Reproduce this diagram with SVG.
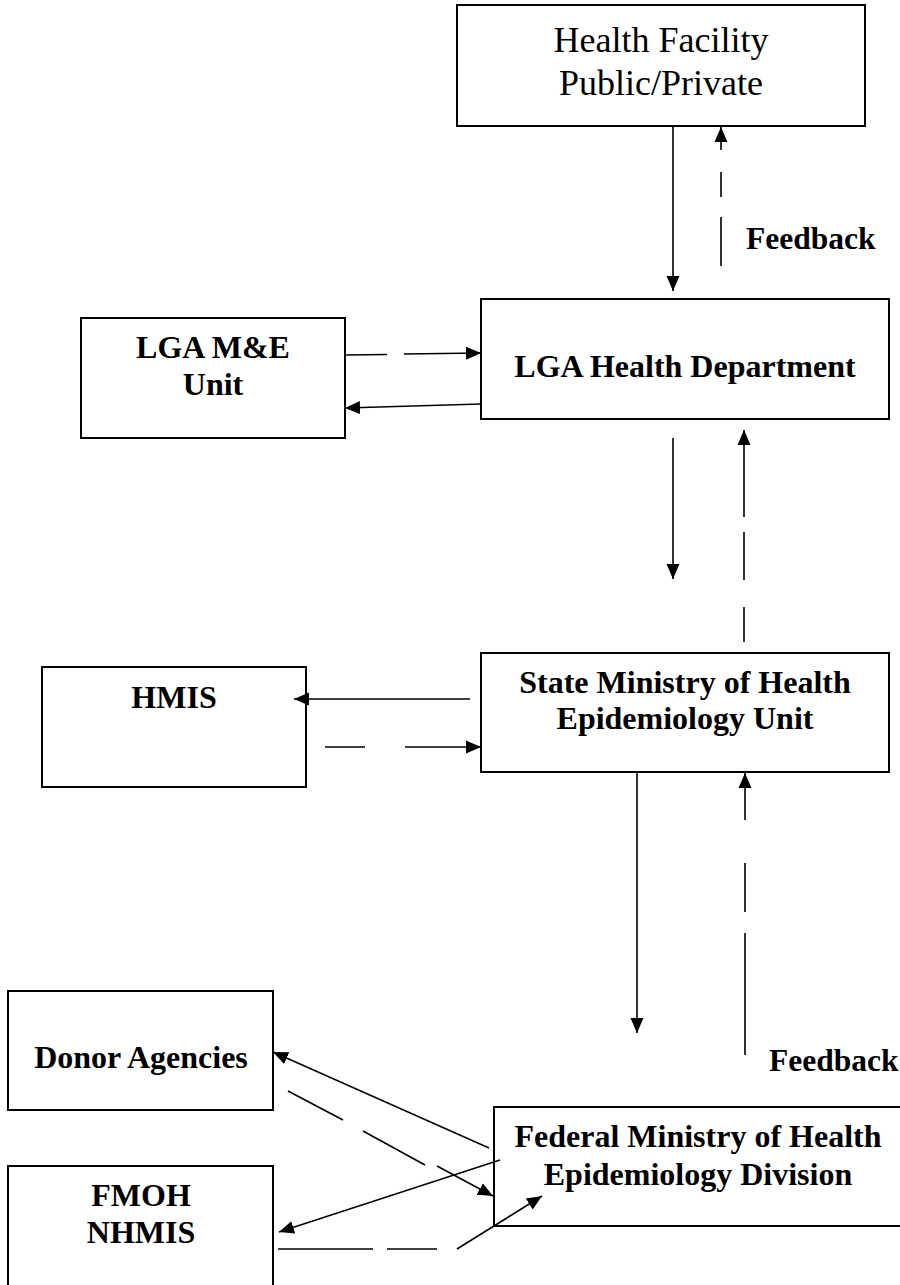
<svg xmlns="http://www.w3.org/2000/svg" width="900" height="1285" viewBox="0 0 900 1285">
<style>
.box{fill:#fff;stroke:#000;stroke-width:2}
.t{font-family:"Liberation Serif","Times New Roman",serif;font-weight:bold;font-size:32px;fill:#000;text-anchor:middle}
.tr{font-family:"Liberation Serif","Times New Roman",serif;font-size:36px;fill:#000;text-anchor:middle}
.lbl{font-family:"Liberation Serif","Times New Roman",serif;font-weight:bold;font-size:31.5px;fill:#000}
.c{fill:none;stroke:#000;stroke-width:1.6;marker-end:url(#ah)}
</style>
<defs>
<marker id="ah" markerUnits="userSpaceOnUse" markerWidth="16" markerHeight="14" refX="15" refY="7" orient="auto">
<path d="M0,0.5 L15,7 L0,13.5 z" fill="#000"/>
</marker>
</defs>
<rect width="900" height="1285" fill="#fff"/>
<g id="health-facility">
<rect class="box" x="457" y="5" width="408" height="121"/>
<text class="tr" x="661" y="52">Health Facility</text>
<text class="tr" x="661" y="95">Public/Private</text>
</g>
<g id="lga-me">
<rect class="box" x="81" y="318" width="264" height="120"/>
<text class="t" x="213" y="358">LGA M&amp;E</text>
<text class="t" x="213" y="395">Unit</text>
</g>
<g id="lga-hd">
<rect class="box" x="481" y="299" width="408" height="120"/>
<text class="t" x="685" y="377">LGA Health Department</text>
</g>
<g id="hmis">
<rect class="box" x="42" y="667" width="264" height="120"/>
<text class="t" x="174" y="708">HMIS</text>
</g>
<g id="state">
<rect class="box" x="481" y="653" width="408" height="119"/>
<text class="t" x="685" y="693">State Ministry of Health</text>
<text class="t" x="685" y="729">Epidemiology Unit</text>
</g>
<g id="donor">
<rect class="box" x="8" y="991" width="265" height="119"/>
<text class="t" x="141" y="1068">Donor Agencies</text>
</g>
<g id="fmoh">
<rect class="box" x="8" y="1166" width="265" height="130"/>
<text class="t" x="141" y="1206">FMOH</text>
<text class="t" x="141" y="1243">NHMIS</text>
</g>
<g id="federal">
<rect class="box" x="494" y="1107" width="420" height="119"/>
<text class="t" x="698" y="1147">Federal Ministry of Health</text>
<text class="t" x="698" y="1185">Epidemiology Division</text>
</g>
<g id="labels">
<text class="lbl" x="746" y="249">Feedback</text>
<text class="lbl" x="769" y="1071">Feedback</text>
</g>
<g id="connectors">
<path class="c" d="M673,126 L673,291"/>
<path class="c" d="M721,266 L721,217 M721,197 L721,172 M721,150 L721,127"/>
<path class="c" d="M345,355 L387,354.5 M404,354 L481,353"/>
<path class="c" d="M481,404 L345,408"/>
<path class="c" d="M673,438 L673,579"/>
<path class="c" d="M744,642 L744,607 M744,580 L744,532 M744,517 L744,430"/>
<path class="c" d="M470,699 L294,699"/>
<path class="c" d="M325,747 L365,747 M405,747 L481,747"/>
<path class="c" d="M637,772 L637,1033"/>
<path class="c" d="M745,1055 L745,933 M745,912 L745,863 M745,820 L745,773"/>
<path class="c" d="M489,1148 L273,1052"/>
<path class="c" d="M288,1091 L343,1120 M363,1131 L425,1165 M437,1166 L493,1196"/>
<path class="c" d="M500,1160 L279,1232"/>
<path class="c" d="M278,1249 L373,1249 M387,1249 L437,1249 M457,1249 L542,1196"/>
</g>
</svg>
